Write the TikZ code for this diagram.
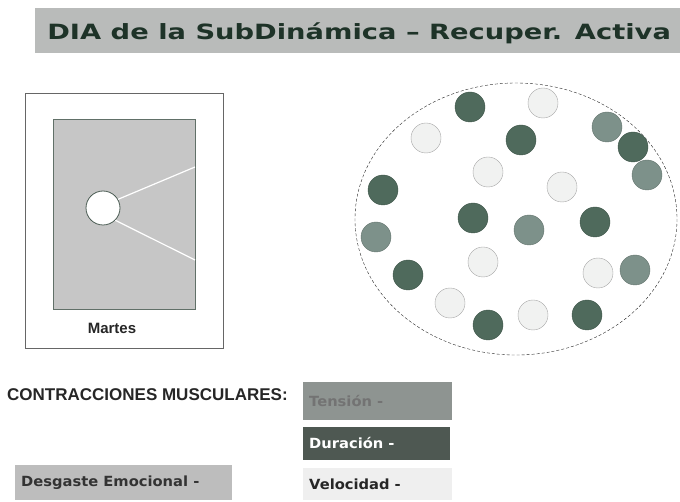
\documentclass[tikz,border=0pt]{standalone}
\usepackage{fontspec}
\setmainfont{Liberation Sans}
\newfontfamily\heavyfont{DejaVu Sans}
\definecolor{banner}{HTML}{B9BBBA}
\definecolor{inkgreen}{HTML}{1E3328}
\definecolor{dotdark}{HTML}{4F6A5C}
\definecolor{dotmid}{HTML}{7D918A}
\definecolor{dotlight}{HTML}{F1F2F1}
\definecolor{tensbox}{HTML}{8E9491}
\definecolor{durbox}{HTML}{4E5852}
\definecolor{velbox}{HTML}{EFEFEF}
\definecolor{desbox}{HTML}{BDBDBD}
\begin{document}
\begin{tikzpicture}[x=1pt,y=-1pt,
    darkdot/.style={circle,minimum size=30pt,inner sep=0pt,fill=dotdark,draw=dotdark!80!black},
    middot/.style={circle,minimum size=30pt,inner sep=0pt,fill=dotmid,draw=dotmid!80!black},
    lightdot/.style={circle,minimum size=30pt,inner sep=0pt,fill=dotlight,draw=gray!70},
    tagbox/.style={anchor=west,inner sep=0pt,xscale=1.05,transform shape,font=\heavyfont\fontsize{14}{17}\selectfont\bfseries}]
  \useasboundingbox (0,0) rectangle (680,502);
  % banner
  \fill[banner] (35,8) rectangle (680,53);
  \node[anchor=west,inner sep=0pt,text=inkgreen,xscale=1.3,transform shape,
    font=\heavyfont\fontsize{21}{25}\selectfont\bfseries] (title) at (47,33)
    {DIA de la SubDinámica – Recuper. Activa};
  % day card
  \draw[gray!80!black,thin] (25,93) rectangle (223,348);
  \draw[fill=gray!45,draw=inkgreen!70] (53,119) rectangle (195,309);
  \node[circle,minimum size=34pt,inner sep=0pt,fill=white,draw=inkgreen!80,thick] (hole) at (103,208) {};
  \coordinate (rayup) at (195,167);
  \coordinate (raydown) at (195,260);
  \draw[white,line width=1.2pt] (hole.30) -- (rayup);
  \draw[white,line width=1.2pt] (hole.-45) -- (raydown);
  \node[font=\fontsize{15}{18}\selectfont\bfseries,text=black!85] (day) at (112,328) {Martes};
  % pool of fibres
  \draw[gray!30!black,densely dashed] (516,219) ellipse (161 and 136);
  \draw
    (470,107) node[darkdot] (f1){}
    (543,103) node[lightdot] (f2){}
    (426,138) node[lightdot] (f3){}
    (521,140) node[darkdot] (f4){}
    (607,127) node[middot] (f5){}
    (633,147) node[darkdot] (f6){}
    (647,175) node[middot] (f7){}
    (488,172) node[lightdot] (f8){}
    (562,187) node[lightdot] (f9){}
    (383,190) node[darkdot] (f10){}
    (473,218) node[darkdot] (f11){}
    (529,230) node[middot] (f12){}
    (595,222) node[darkdot] (f13){}
    (376,237) node[middot] (f14){}
    (483,262) node[lightdot] (f15){}
    (408,275) node[darkdot] (f16){}
    (598,273) node[lightdot] (f17){}
    (635,270) node[middot] (f18){}
    (450,303) node[lightdot] (f19){}
    (488,325) node[darkdot] (f20){}
    (533,315) node[lightdot] (f21){}
    (587,315) node[darkdot] (f22){};
  % labels
  \node[anchor=west,inner sep=0pt,font=\fontsize{17}{20}\selectfont\bfseries,text=black!85] (contr) at (7,395)
    {CONTRACCIONES MUSCULARES:};
  \fill[tensbox] (303,382) rectangle (452,420);
  \fill[durbox] (303,427) rectangle (450,460);
  \fill[velbox] (303,468) rectangle (452,500);
  \fill[desbox] (15,465) rectangle (232,500);
  \node[tagbox,text=black!55] (tension) at (309,401) {Tensión -};
  \node[tagbox,text=white] (duracion) at (309,443) {Duración -};
  \node[tagbox,text=black!85] (velocidad) at (309,484) {Velocidad -};
  \node[tagbox,text=black!80] (desgaste) at (21,483) {Desgaste Emocional -};
\end{tikzpicture}
\end{document}
